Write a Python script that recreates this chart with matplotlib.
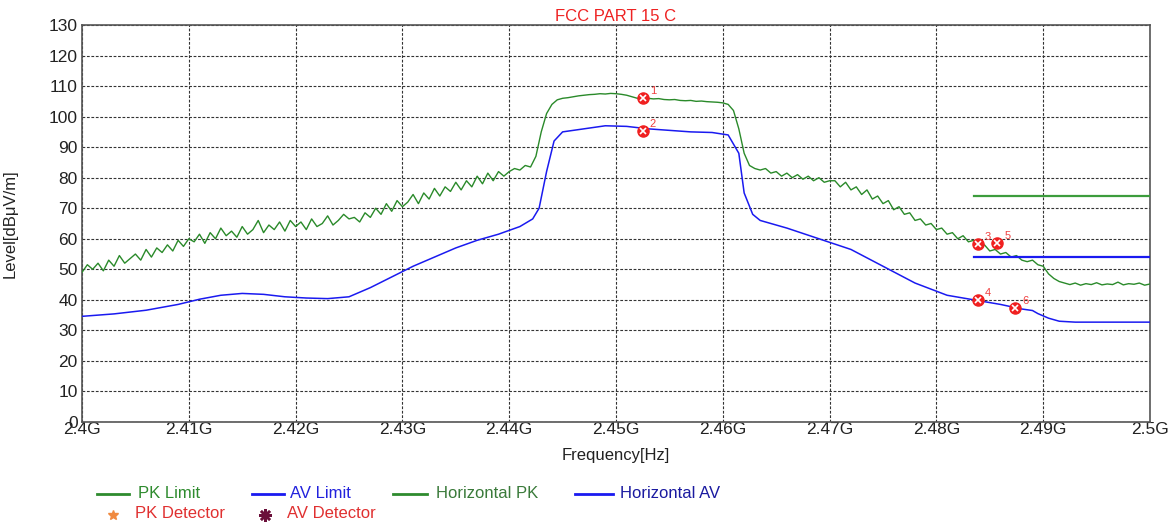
import numpy as np
import matplotlib
matplotlib.use("Agg")
import matplotlib.pyplot as plt
from matplotlib.lines import Line2D

plt.rcParams['font.family'] = ['Liberation Sans', 'DejaVu Sans']

# ---------------- data ----------------
pk_freq = [2.400 + 0.0005 * i for i in range(201)]
pk_level = [
    # 2.4000 - 2.4100
    49, 51.5, 50, 52, 49.5, 53, 51, 54.5, 52, 53.5, 55, 53, 56.5, 54, 57, 55.5, 58, 56, 59.5, 57.5, 60,
    # 2.4105 - 2.4200
    59, 61.5, 58.5, 62, 60, 63.5, 61, 62.5, 60.5, 64, 61.5, 63, 66, 62, 64.5, 63, 65.5, 62.5, 66, 64,
    # 2.4205 - 2.4300
    65.5, 63, 66.5, 64, 65, 67.5, 64.5, 66, 68, 66.5, 67, 65.5, 68.5, 67, 70, 68, 71.5, 69, 72.5, 70.5,
    # 2.4305 - 2.4400
    72, 74.5, 71.5, 75, 73, 76.5, 74, 77, 75.5, 78.5, 76, 79, 77, 80.5, 78, 81.5, 79, 82, 80.5, 82,
    # 2.4405 - 2.4500
    83, 82.5, 84, 83.5, 87, 95, 101, 104, 105.5, 106, 106.2, 106.5, 106.8, 107, 107.2, 107.3, 107.5, 107.4, 107.6, 107.5,
    # 2.4505 - 2.4600
    107.3, 107, 106.5, 106, 106.2, 106, 105.8, 105.9, 105.6, 105.5, 105.6, 105.3, 105.2, 105.3, 105, 105.1, 104.9, 104.8, 104.7, 104.5,
    # 2.4605 - 2.4700
    104, 102, 96, 88, 84, 83, 82.5, 83, 81.5, 82, 80.5, 81.5, 80, 81, 79.5, 80.5, 79, 80, 78.5, 79,
    # 2.4705 - 2.4800
    79, 77, 78.5, 76, 77, 74.5, 76, 73, 74, 71.5, 72.5, 69.5, 70.5, 68, 68.5, 66, 66.5, 64.5, 65, 63,
    # 2.4805 - 2.4900
    63.5, 61.5, 62, 60, 61, 59, 59.5, 57.5, 58, 56, 56.5, 55, 55.5, 54, 54.5, 53, 52.5, 53, 51.5, 51,
    # 2.4905 - 2.5000
    48.5, 47, 46, 45.5, 45, 45.5, 44.8, 45.3, 45, 45.6, 44.9, 45.2, 45, 45.8, 44.9, 45.3, 45.1, 45.5, 44.8, 45.2,
]

av_freq = [2.400, 2.403, 2.406, 2.409, 2.411, 2.413, 2.415, 2.417, 2.419, 2.421,
           2.423, 2.425, 2.427, 2.429, 2.431, 2.433, 2.435, 2.437, 2.439, 2.441,
           2.4422, 2.4428, 2.4435, 2.4442, 2.445, 2.447, 2.449, 2.451, 2.453, 2.455,
           2.457, 2.459, 2.4605, 2.4615, 2.462, 2.4628, 2.4635, 2.466, 2.469, 2.472,
           2.475, 2.478, 2.481, 2.4835, 2.486, 2.488, 2.489, 2.4895, 2.4905, 2.4915,
           2.493, 2.500]
av_level = [34.6, 35.4, 36.6, 38.5, 40.2, 41.5, 42.1, 41.8, 41, 40.6,
            40.4, 41, 44, 47.5, 51, 54, 57, 59.5, 61.5, 64,
            66.5, 70, 82, 92, 95, 96, 97, 96.8, 96, 95.5,
            95, 94.8, 94, 88, 75, 68, 66, 63.5, 60, 56.5,
            51, 45.5, 41.5, 40, 38.5, 37, 36.5, 35.5, 34, 33,
            32.7, 32.7]

limit_freq = [2.4835, 2.500]
pk_limit = [74, 74]
av_limit = [54, 54]

marker_ids = ["1", "2", "3", "4", "5", "6"]
marker_freq = [2.4525, 2.4525, 2.4839, 2.4839, 2.4857, 2.4874]
marker_level = [106.2, 95.3, 58.3, 39.8, 58.6, 37.4]

xticks = [2.40 + 0.01 * i for i in range(11)]
xtick_labels = ["2.4G", "2.41G", "2.42G", "2.43G", "2.44G", "2.45G",
                "2.46G", "2.47G", "2.48G", "2.49G", "2.5G"]
yticks = list(range(0, 131, 10))

# ---------------- figure ----------------
fig = plt.figure(figsize=(11.69, 5.23), dpi=100)
W, H = 1169, 523
ax = fig.add_axes([82 / W, 1 - 422 / H, (1150 - 82) / W, (422 - 25) / H])

green_trace = '#2a8a2a'
green_limit = '#3c9c3c'
blue = '#1a1af0'

ax.plot(pk_freq, pk_level, color=green_trace, lw=1.0, zorder=3)
ax.plot(av_freq, av_level, color=blue, lw=1.1, zorder=3)
ax.plot(limit_freq, pk_limit, color=green_limit, lw=1.6, zorder=3)
ax.plot(limit_freq, av_limit, color=blue, lw=1.6, zorder=3)

ax.plot(marker_freq, marker_level, 'o', ms=8, color='#f02020', mec='#f02020', zorder=5)
ax.plot(marker_freq, marker_level, 'x', ms=5, mew=1.2, color='white', zorder=6)
for mid, mf, ml in zip(marker_ids, marker_freq, marker_level):
    ax.annotate(mid, (mf, ml), xytext=(5, 3), textcoords='offset points',
                color='#f04040', fontsize=8, zorder=7)

ax.set_xlim(2.40, 2.50)
ax.set_ylim(0, 130)
ax.set_xticks(xticks)
ax.set_xticklabels(xtick_labels)
ax.set_yticks(yticks)
ax.tick_params(axis='both', length=0, labelsize=12.5, pad=3, colors='#222222')
ax.tick_params(axis='x', pad=0)
ax.grid(True, color='#333333', linestyle=(0, (2.5, 1.5)), lw=0.8)
for s in ax.spines.values():
    s.set_color('#555555')
    s.set_linewidth(1.2)

ax.set_title("FCC PART 15 C", color='#ee2222', fontsize=12, pad=3)
ax.set_xlabel("Frequency[Hz]", fontsize=12, labelpad=8, color='#222222')
ax.set_ylabel("Level[dBμV/m]", fontsize=12, color='#222222')
ax.yaxis.set_label_coords(-(82 - 18) / (1150 - 82), 0.5)

# ---------------- legend (manual) ----------------
def fx(px):
    return px / W

def fy(py):
    return 1 - py / H

legend_lines = [
    (97, 129, 494, '#2e8b2e', "PK Limit", '#2e8b2e', 138),
    (252, 284, 494, blue, "AV Limit", '#2222dd', 290),
    (393, 427, 494, '#2e8b2e', "Horizontal PK", '#3a7a3a', 436),
    (575, 613, 494, blue, "Horizontal AV", '#1a1aa0', 620),
]
for x0, x1, y, c, label, tc, tx in legend_lines:
    fig.add_artist(Line2D([fx(x0), fx(x1)], [fy(y), fy(y)], color=c, lw=2))
    fig.text(fx(tx), fy(y), label, color=tc, fontsize=12, va='center')

fig.add_artist(Line2D([fx(113)], [fy(515)], marker='*', ms=7, color='#f08a40', ls='none'))
fig.text(fx(135), fy(514), "PK Detector", color='#e03030', fontsize=12, va='center')
fig.add_artist(Line2D([fx(265)], [fy(515)], marker=(8, 2, 0), ms=9, mew=1.8, color='#6b0f3a', ls='none'))
fig.add_artist(Line2D([fx(265)], [fy(515)], marker='o', ms=4, color='#6b0f3a', ls='none'))
fig.text(fx(287), fy(514), "AV Detector", color='#e03030', fontsize=12, va='center')

fig.savefig("out.png", dpi=100)
